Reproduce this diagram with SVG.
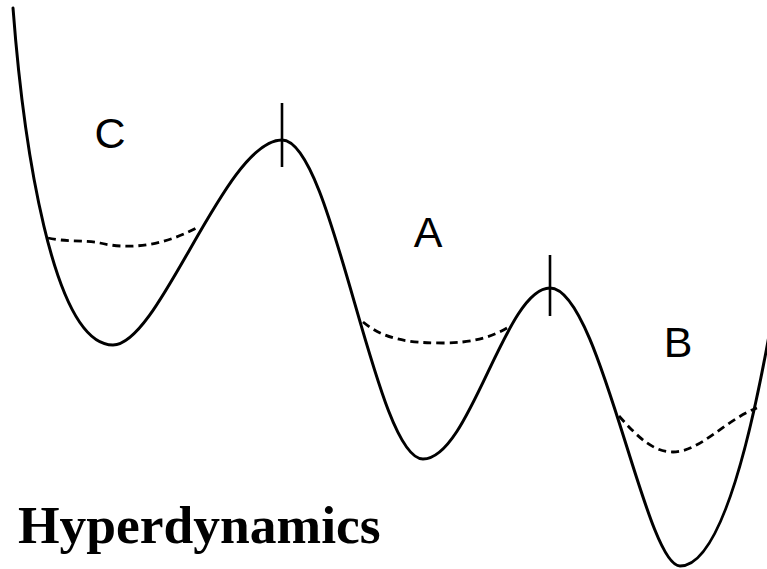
<svg xmlns="http://www.w3.org/2000/svg" width="767" height="569" viewBox="0 0 767 569">
<style>
.curve{fill:none;stroke:#000;stroke-width:3;stroke-linejoin:round;stroke-linecap:round}
.dash{fill:none;stroke:#000;stroke-width:2.8;stroke-dasharray:8 5}
.tick{stroke:#000;stroke-width:2.6}
.lbl{font-family:"Liberation Sans",Arial,sans-serif;font-size:43px;fill:#000;text-anchor:middle}
.title{font-family:"Liberation Serif","Times New Roman",serif;font-size:53.5px;font-weight:bold;fill:#000}
</style>
<rect width="767" height="569" fill="#fff"/>
<g id="potential">
<path class="curve" d="M13,8 C23,140 52,345 113,345 C160,345 225,140 282,140 C333,140 375,459 423,459 C470,459 505,288 550,288 C600,288 645,566 680,566 C715,566 745,470 770,330"/>
</g>
<g id="levels">
<path class="dash" d="M48,238 C65,242 85,240 100,243 C125,249 160,248 198,227"/>
<path class="dash" d="M363,322 C385,340 410,343 443,343 C470,343 490,338 507,328"/>
<path class="dash" d="M619,416 C640,440 655,452 673,452 C700,452 725,420 757,408"/>
</g>
<g id="ticks">
<line class="tick" x1="282" y1="103" x2="282" y2="167"/>
<line class="tick" x1="550" y1="255" x2="550" y2="316"/>
</g>
<g id="labels">
<text class="lbl" x="110" y="148">C</text>
<text class="lbl" x="428" y="247">A</text>
<text class="lbl" x="678" y="357">B</text>
<text class="title" x="18" y="543">Hyperdynamics</text>
</g>
</svg>
